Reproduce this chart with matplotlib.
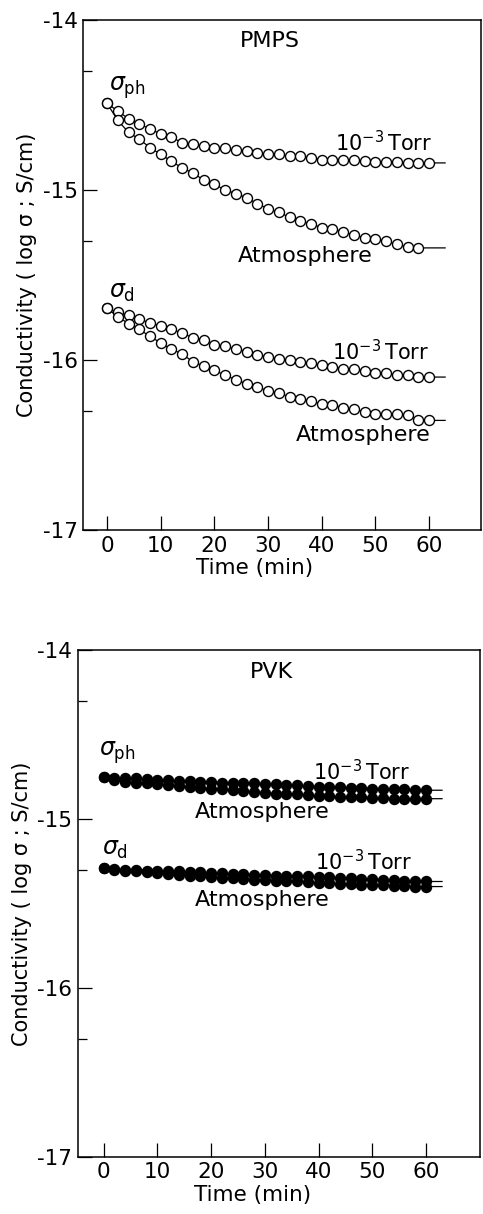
import numpy as np
import matplotlib
matplotlib.use("Agg")
import matplotlib.pyplot as plt

plt.rcParams['font.family'] = ['DejaVu Sans']
plt.rcParams['mathtext.fontset'] = 'dejavusans'
plt.rcParams['axes.unicode_minus'] = False

# time grid (min), one reading every 2 min
t = np.arange(0, 61, 2)
tail_end = 63.0

# PMPS, log conductivity
pmps_ph_torr = [-14.49, -14.535, -14.58, -14.61, -14.64, -14.67, -14.69, -14.72, -14.73, -14.74,
                -14.75, -14.755, -14.765, -14.77, -14.78, -14.79, -14.79, -14.80, -14.80, -14.81,
                -14.82, -14.82, -14.82, -14.825, -14.83, -14.835, -14.835, -14.835, -14.84, -14.84, -14.84]
pmps_ph_atm = [-14.49, -14.59, -14.66, -14.70, -14.75, -14.79, -14.83, -14.87, -14.90, -14.94,
               -14.965, -15.00, -15.02, -15.045, -15.08, -15.11, -15.13, -15.16, -15.18, -15.20,
               -15.22, -15.23, -15.245, -15.265, -15.28, -15.29, -15.30, -15.32, -15.335, -15.34]
pmps_d_torr = [-15.696, -15.72, -15.735, -15.76, -15.78, -15.80, -15.82, -15.84, -15.87, -15.88,
               -15.91, -15.92, -15.935, -15.95, -15.97, -15.98, -15.995, -16.00, -16.01, -16.02,
               -16.03, -16.04, -16.05, -16.05, -16.065, -16.075, -16.075, -16.09, -16.085, -16.10, -16.10]
pmps_d_atm = [-15.696, -15.745, -15.785, -15.82, -15.86, -15.90, -15.935, -15.965, -16.01, -16.035,
              -16.06, -16.09, -16.115, -16.14, -16.16, -16.18, -16.195, -16.215, -16.23, -16.24,
              -16.26, -16.265, -16.28, -16.29, -16.305, -16.32, -16.315, -16.32, -16.325, -16.35, -16.355]

# PVK, log conductivity
pvk_ph_torr = [-14.75, -14.755, -14.76, -14.76, -14.765, -14.77, -14.77, -14.775, -14.775, -14.78,
               -14.78, -14.785, -14.785, -14.79, -14.79, -14.795, -14.795, -14.80, -14.80, -14.805,
               -14.81, -14.81, -14.81, -14.815, -14.815, -14.82, -14.82, -14.825, -14.825, -14.83, -14.83]
pvk_ph_atm = [-14.75, -14.77, -14.78, -14.785, -14.79, -14.795, -14.80, -14.805, -14.81, -14.815,
              -14.82, -14.825, -14.83, -14.835, -14.84, -14.845, -14.85, -14.85, -14.855, -14.86,
              -14.865, -14.865, -14.87, -14.87, -14.87, -14.875, -14.875, -14.88, -14.88, -14.88, -14.88]
pvk_d_torr = [-15.29, -15.295, -15.30, -15.30, -15.305, -15.305, -15.31, -15.31, -15.315, -15.315,
              -15.32, -15.32, -15.325, -15.325, -15.33, -15.33, -15.335, -15.335, -15.34, -15.34,
              -15.345, -15.345, -15.35, -15.35, -15.355, -15.355, -15.36, -15.36, -15.365, -15.365, -15.37]
pvk_d_atm = [-15.29, -15.30, -15.305, -15.31, -15.315, -15.32, -15.325, -15.33, -15.335, -15.34,
             -15.345, -15.35, -15.35, -15.355, -15.36, -15.36, -15.365, -15.37, -15.37, -15.375,
             -15.38, -15.38, -15.385, -15.385, -15.39, -15.39, -15.39, -15.395, -15.395, -15.40, -15.40]

xticks = [0, 10, 20, 30, 40, 50, 60]
yticks = [-14, -15, -16, -17]
yminor = [-14.301, -15.301, -16.301]

fig = plt.figure(figsize=(4.83, 12.14), dpi=100)
ax1 = fig.add_axes([0.172, 0.5634, 0.824, 0.420])
ax2 = fig.add_axes([0.161, 0.047, 0.832, 0.4176])


def draw_series(ax, y, filled):
    tt = t[:len(y)]
    ax.plot(list(tt) + [tail_end], list(y) + [y[-1]], color='black', lw=0.9, zorder=1)
    ax.plot(tt, y, ls='none', marker='o', ms=7.2,
            mfc='black' if filled else 'white', mec='black', mew=1.0, zorder=2)


def style_axes(ax, xlim, xlab_x):
    ax.set_xlim(*xlim)
    ax.set_ylim(-17, -14)
    ax.set_xticks(xticks)
    ax.set_yticks(yticks)
    ax.set_yticks(yminor, minor=True)
    ax.tick_params(axis='both', which='major', direction='in', length=10, width=0.9,
                   labelsize=15.5, pad=4)
    ax.tick_params(axis='y', which='minor', direction='in', length=6.5, width=0.9)
    ax.tick_params(top=False, right=False)
    for sp in ax.spines.values():
        sp.set_linewidth(1.1)
    ax.set_ylabel('Conductivity ( log σ ; S/cm)', fontsize=15, labelpad=4)
    ax.set_xlabel('Time (min)', fontsize=15.5, labelpad=3)
    ax.xaxis.set_label_coords(xlab_x, -0.055)


fs = 16
torr = r'10$^{\mathregular{-3}}\,$Torr'
fs_torr = 15

# PMPS panel
draw_series(ax1, pmps_ph_torr, False)
draw_series(ax1, pmps_ph_atm, False)
draw_series(ax1, pmps_d_torr, False)
draw_series(ax1, pmps_d_atm, False)
style_axes(ax1, (-4.47, 69.7), 0.432)
ax1.text(30.3, -14.12, 'PMPS', fontsize=fs, ha='center', va='center')
ax1.text(0.4, -14.40, r'$\sigma_{\mathregular{ph}}$', fontsize=17, ha='left', va='center')
ax1.text(60.5, -14.72, torr, fontsize=fs_torr, ha='right', va='center')
ax1.text(24.4, -15.39, 'Atmosphere', fontsize=fs, ha='left', va='center')
ax1.text(0.4, -15.60, r'$\sigma_{\mathregular{d}}$', fontsize=17, ha='left', va='center')
ax1.text(60.0, -15.95, torr, fontsize=fs_torr, ha='right', va='center')
ax1.text(60.2, -16.44, 'Atmosphere', fontsize=fs, ha='right', va='center')

# PVK panel
draw_series(ax2, pvk_ph_torr, True)
draw_series(ax2, pvk_ph_atm, True)
draw_series(ax2, pvk_d_torr, True)
draw_series(ax2, pvk_d_atm, True)
style_axes(ax2, (-4.84, 70.0), 0.435)
ax2.text(31.3, -14.13, 'PVK', fontsize=fs, ha='center', va='center')
ax2.text(-0.8, -14.61, r'$\sigma_{\mathregular{ph}}$', fontsize=17, ha='left', va='center')
ax2.text(57.0, -14.72, torr, fontsize=fs_torr, ha='right', va='center')
ax2.text(17.0, -14.96, 'Atmosphere', fontsize=fs, ha='left', va='center')
ax2.text(-0.4, -15.18, r'$\sigma_{\mathregular{d}}$', fontsize=17, ha='left', va='center')
ax2.text(57.4, -15.25, torr, fontsize=fs_torr, ha='right', va='center')
ax2.text(17.0, -15.48, 'Atmosphere', fontsize=fs, ha='left', va='center')

fig.savefig('out.png', dpi=100)
